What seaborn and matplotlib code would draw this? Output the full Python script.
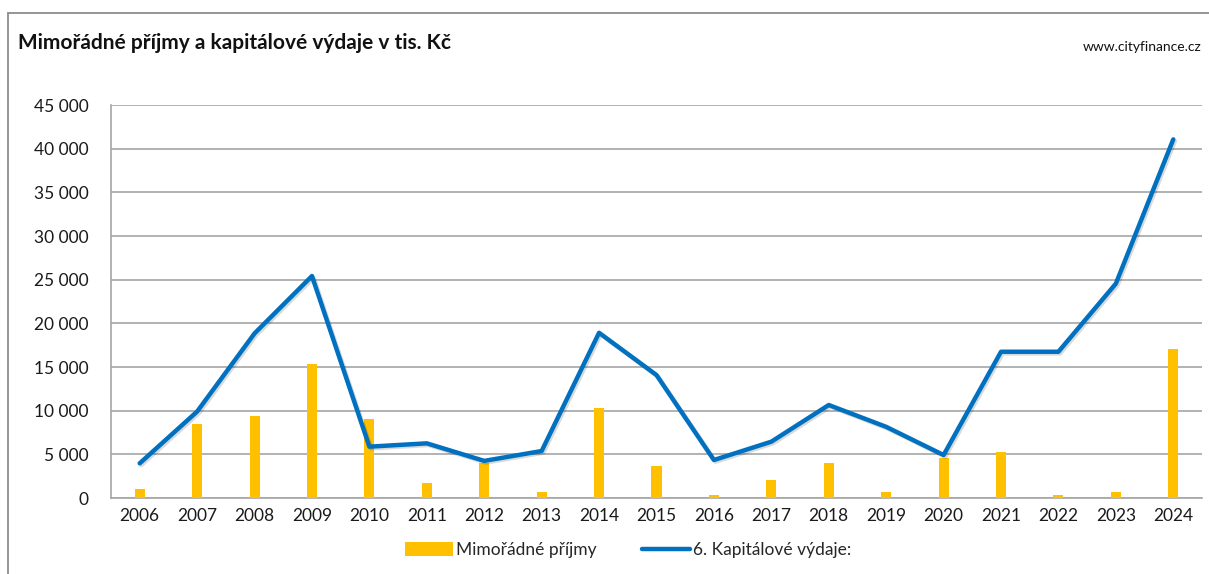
import numpy as np
import pandas as pd
import matplotlib
matplotlib.use("Agg")
import matplotlib.pyplot as plt
import matplotlib.patheffects as pe
from matplotlib.ticker import FuncFormatter
from matplotlib.lines import Line2D
from matplotlib.patches import Patch, Rectangle
import seaborn as sns

# data (tis. Kč)
years = [str(y) for y in range(2006, 2025)]
mimoradne_prijmy = [1000, 8450, 9400, 15350, 9050, 1700, 4000, 650, 10300, 3700,
                    300, 2060, 4050, 650, 4550, 5270, 300, 650, 17030]
kapitalove_vydaje = [3970, 9900, 18850, 25420, 5880, 6260, 4250, 5380, 18920, 14080,
                     4350, 6450, 10650, 8150, 4920, 16750, 16750, 24550, 41070]

df = pd.DataFrame({"rok": years, "prijmy": mimoradne_prijmy, "vydaje": kapitalove_vydaje})

sns.set_style("white")
plt.rcParams["font.family"] = ["Lato", "DejaVu Sans"]

fig = plt.figure(figsize=(12.09, 5.74), dpi=100)
ax = fig.add_axes([0.0918, 0.1324, 0.9024, 0.6846])

bar_col = "#FFC000"
line_col = "#0070C0"

sns.barplot(data=df, x="rok", y="prijmy", color=bar_col, width=0.175,
            saturation=1, linewidth=0, ax=ax, zorder=3)
sns.lineplot(x=np.arange(len(years)), y=df["vydaje"], color=line_col, linewidth=3.2,
             ax=ax, zorder=4,
             path_effects=[pe.SimpleLineShadow(offset=(1.2, -1.2), alpha=0.15), pe.Normal()])

ax.set_xlim(-0.5, len(years) - 0.5)
ax.set_ylim(0, 45000)
ax.set_yticks(np.arange(0, 45001, 5000))
ax.yaxis.set_major_formatter(FuncFormatter(lambda v, p: f"{int(v):,}".replace(",", " ")))
ax.grid(axis="y", color="#A6A6A6", linewidth=1.2, zorder=0)
ax.set_axisbelow(True)
ax.set_xlabel("")
ax.set_ylabel("")
for s in ["top", "right"]:
    ax.spines[s].set_visible(False)
for s in ["left", "bottom"]:
    ax.spines[s].set_color("#A6A6A6")
    ax.spines[s].set_linewidth(1.2)
ax.tick_params(axis="both", length=0, labelsize=12.5, colors="#1a1a1a")
ax.tick_params(axis="y", pad=16)
ax.tick_params(axis="x", pad=7)

# outer frame
fig.patches.append(Rectangle((8 / 1209, -0.1), 1.2, (574 - 13) / 574 + 0.1,
                             transform=fig.transFigure, fill=False,
                             edgecolor="#8C8C8C", linewidth=1.3))

fig.text(18 / 1209, 1 - 43 / 574, "Mimořádné příjmy a kapitálové výdaje v tis. Kč",
         fontsize=15, fontweight="bold", ha="left", va="center", color="#111111")
fig.text(1202 / 1209, 1 - 47 / 574, "www.cityfinance.cz", fontsize=10,
         ha="right", va="center", color="#111111")

handles = [Patch(facecolor=bar_col, edgecolor="none"),
           Line2D([0], [0], color=line_col, linewidth=3.2)]
fig.legend(handles, ["Mimořádné příjmy", "6. Kapitálové výdaje:"],
           loc="center", bbox_to_anchor=(628 / 1209, 1 - 550 / 574), ncol=2,
           frameon=False, fontsize=12.5, handlelength=2.8, handleheight=0.9,
           handletextpad=0.15, columnspacing=2.6)

fig.savefig("out.png", dpi=100)
